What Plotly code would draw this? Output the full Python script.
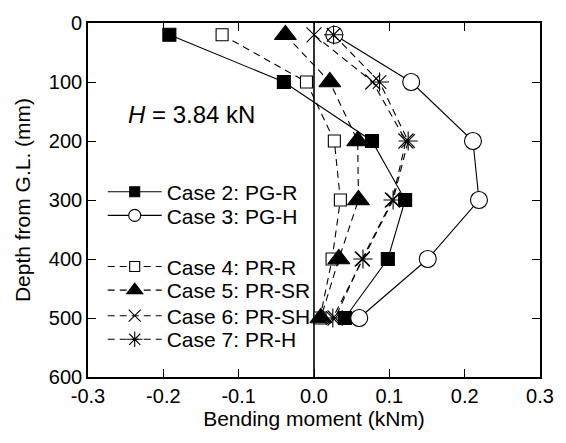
import plotly.graph_objects as go

depth = [20, 100, 200, 300, 400, 500]

case2 = [-0.192, -0.040, 0.077, 0.121, 0.098, 0.041]
case3 = [0.027, 0.129, 0.211, 0.219, 0.151, 0.060]
case4 = [-0.122, -0.010, 0.027, 0.035, 0.024, 0.008]
case5 = [-0.038, 0.021, 0.058, 0.059, 0.033, 0.009]
case6 = [0.000, 0.078, 0.122, 0.104, 0.064, 0.028]
case7 = [0.026, 0.087, 0.125, 0.105, 0.065, 0.025]

names = ["Case 2: PG-R", "Case 3: PG-H", "Case 4: PR-R",
         "Case 5: PR-SR", "Case 6: PR-SH", "Case 7: PR-H"]

x_tickvals = [-0.3, -0.2, -0.1, 0.0, 0.1, 0.2, 0.3]
x_ticktext = ["-0.3", "-0.2", "-0.1", "0.0", "0.1", "0.2", "0.3"]

FONT = "Liberation Sans, Arial, sans-serif"

series = [
    (case2, "square", 13, 10, "black", "solid"),
    (case3, "circle", 17, 12, "white", "solid"),
    (case4, "square", 12, 10, "white", "7px,5px"),
    (case5, "triangle-up", 19, 14, "black", "7px,5px"),
    (case6, "x-thin", 15, 12, "black", "7px,5px"),
    (case7, "asterisk", 16, 13, "black", "7px,5px"),
]

fig = go.Figure()

# vertical zero line
fig.add_shape(type="line", x0=0, x1=0, y0=0, y1=600, xref="x", yref="y",
              line=dict(color="black", width=1.6), layer="below")

legend_rows_px = [189, 213, 265, 289, 315, 339]
plot_top, plot_bot = 17, 377

for i, (vals, sym, size, lsize, fill, dash) in enumerate(series):
    lg = "legend" if i == 0 else f"legend{i+1}"
    fig.add_trace(go.Scatter(
        x=vals, y=depth, name=names[i], mode="lines+markers",
        line=dict(color="black", width=1.1, dash=dash),
        marker=dict(symbol=sym, size=size, color=fill,
                    line=dict(color="black", width=1.1)),
        showlegend=False,
    ))
    # legend proxy with smaller marker
    fig.add_trace(go.Scatter(
        x=[None], y=[None], name=names[i], mode="lines+markers",
        line=dict(color="black", width=1.1, dash=dash),
        marker=dict(symbol=sym, size=lsize, color=fill,
                    line=dict(color="black", width=1.1)),
        legend=lg, showlegend=True,
    ))

legend_layouts = {}
for i, ypx in enumerate(legend_rows_px):
    key = "legend" if i == 0 else f"legend{i+1}"
    yp = 1 - (ypx - plot_top) / (plot_bot - plot_top)
    legend_layouts[key] = dict(
        x=(103 - 88) / 461, y=yp, xanchor="left", yanchor="middle",
        bgcolor="rgba(0,0,0,0)", borderwidth=0, itemwidth=54,
        font=dict(family=FONT, size=21, color="black"),
        tracegroupgap=0,
    )

fig.update_layout(
    width=566, height=443,
    margin=dict(l=88, r=17, t=17, b=66),
    paper_bgcolor="white", plot_bgcolor="white",
    font=dict(family=FONT, size=20, color="black"),
    **legend_layouts,
)

fig.update_xaxes(
    range=[-0.3, 0.3], tickvals=x_tickvals, ticktext=x_ticktext,
    ticks="inside", ticklen=8, tickwidth=1.2, tickcolor="black",
    showline=True, linecolor="black", linewidth=1.6, mirror="ticks",
    showgrid=False, zeroline=False,
    title=dict(text="Bending moment (kNm)", font=dict(size=21), standoff=5),
    tickfont=dict(size=20),
)
fig.update_yaxes(
    range=[600, 0], dtick=100,
    ticks="inside", ticklen=8, tickwidth=1.2, tickcolor="black",
    showline=True, linecolor="black", linewidth=1.6, mirror="ticks",
    showgrid=False, zeroline=False,
    title=dict(text="Depth from G.L. (mm)", font=dict(size=21), standoff=12),
    tickfont=dict(size=20),
)

fig.add_annotation(
    x=-0.25, y=155, xref="x", yref="y", xanchor="left", yanchor="middle",
    text="<i>H</i> = 3.84 kN", showarrow=False,
    font=dict(family=FONT, size=24, color="black"),
)

fig.write_html("out.html")
